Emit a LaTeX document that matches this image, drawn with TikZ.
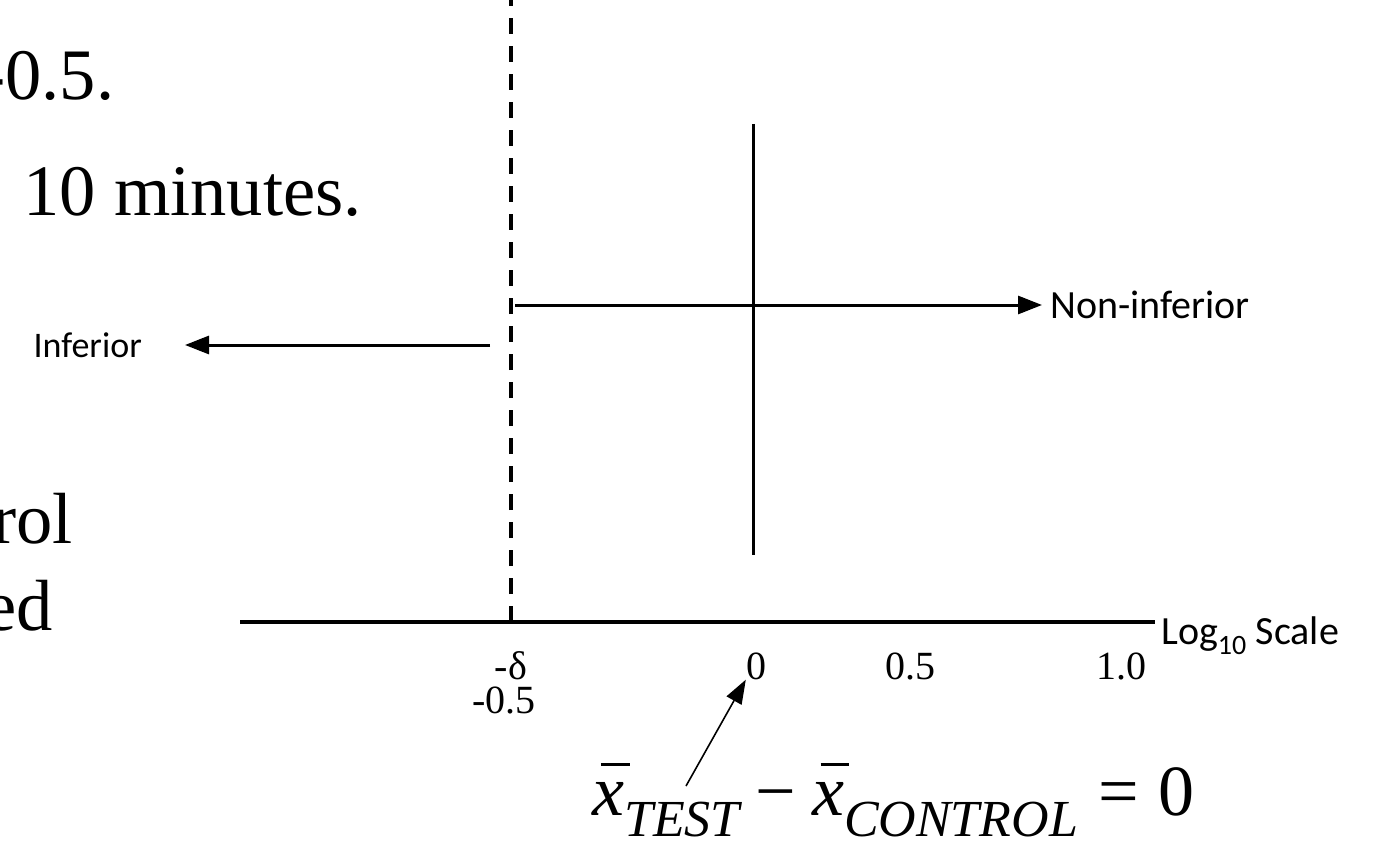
\documentclass[tikz,border=0pt]{standalone}
\usepackage{fontspec}
\setmainfont{Liberation Serif}
\newfontfamily\calibrifont{Carlito}
\usetikzlibrary{arrows.meta}
\newcommand\xbarr{\leavevmode\rlap{\kern0.12em\raisebox{0.68em}{\rule{0.40em}{0.045em}}}\textit{x}}
\newcommand\subtxt[1]{\raisebox{-0.3em}{\fontsize{52}{52}\selectfont\itshape #1}}
\begin{document}
\begin{tikzpicture}[x=1pt,y=-1pt,
  bigtext/.style={inner sep=0pt,font=\fontsize{72.5}{72.5}\selectfont},
  ticklabel/.style={inner sep=0pt,font=\fontsize{40}{40}\selectfont},
  callabel/.style={inner sep=0pt,font=\calibrifont\fontsize{40}{40}\selectfont},
  callabelsmall/.style={inner sep=0pt,font=\calibrifont\fontsize{36}{36}\selectfont},
  thickline/.style={line width=3.4pt},
  arrowline/.style={line width=3pt,-{Triangle[length=24pt,width=18pt]}},
  thinarrow/.style={line width=1.6pt,-{Triangle[length=24pt,width=17pt]}}]
\useasboundingbox (0,0) rectangle (1373,842);
% left texts (cut at the page edge)
\node[bigtext,anchor=base east] (t1) at (114.5,100) {-0.5.};
\node[bigtext,anchor=base east] (t2) at (362,216) {10 minutes.};
\node[bigtext,anchor=base east] (t3) at (73,543) {rol};
\node[bigtext,anchor=base east] (t4) at (53,630) {ed};
% axis and lines
\coordinate (axL) at (240,622);
\coordinate (axR) at (1155,622);
\draw[thickline] (axL) -- (axR);
\coordinate (dashB) at (511,622);
\coordinate (dashT) at (511,0);
\draw[thickline,dash pattern=on 16pt off 12pt] (dashB) -- (dashT);
\coordinate (vT) at (753,124);
\coordinate (vB) at (753,555);
\draw[line width=3pt] (vT) -- (vB);
% arrows
\node[callabel,anchor=west] (noninf) at (1050,305) {Non-inferior};
\coordinate (nS) at (515,305);
\draw[arrowline] (nS) -- ([xshift=-8pt]noninf.west);
\node[callabelsmall,anchor=east] (inf) at (142,345) {Inferior};
\coordinate (iS) at (490,345);
\draw[arrowline] (iS) -- ([xshift=43pt]inf.east);
% tick labels
\node[ticklabel] (md) at (511,666) {-δ};
\node[ticklabel] (m05) at (504,700) {-0.5};
\node[ticklabel] (z) at (756,666) {0};
\node[ticklabel] (h) at (910,666) {0.5};
\node[ticklabel] (one) at (1121,666) {1.0};
\node[callabel,anchor=west] (log) at (1161,636) {Log\textsubscript{10} Scale};
% formula
\node[inner sep=0pt,anchor=base west,font=\fontsize{72}{72}\selectfont] (f) at (592,815)
  {\xbarr\subtxt{TEST}\kern0.22em−\kern0.22em\xbarr\subtxt{CONTROL}\kern0.28em=\kern0.28em0};
\coordinate (fA) at (686,786);
\draw[thinarrow] (fA) -- (z.south west);
\end{tikzpicture}
\end{document}
